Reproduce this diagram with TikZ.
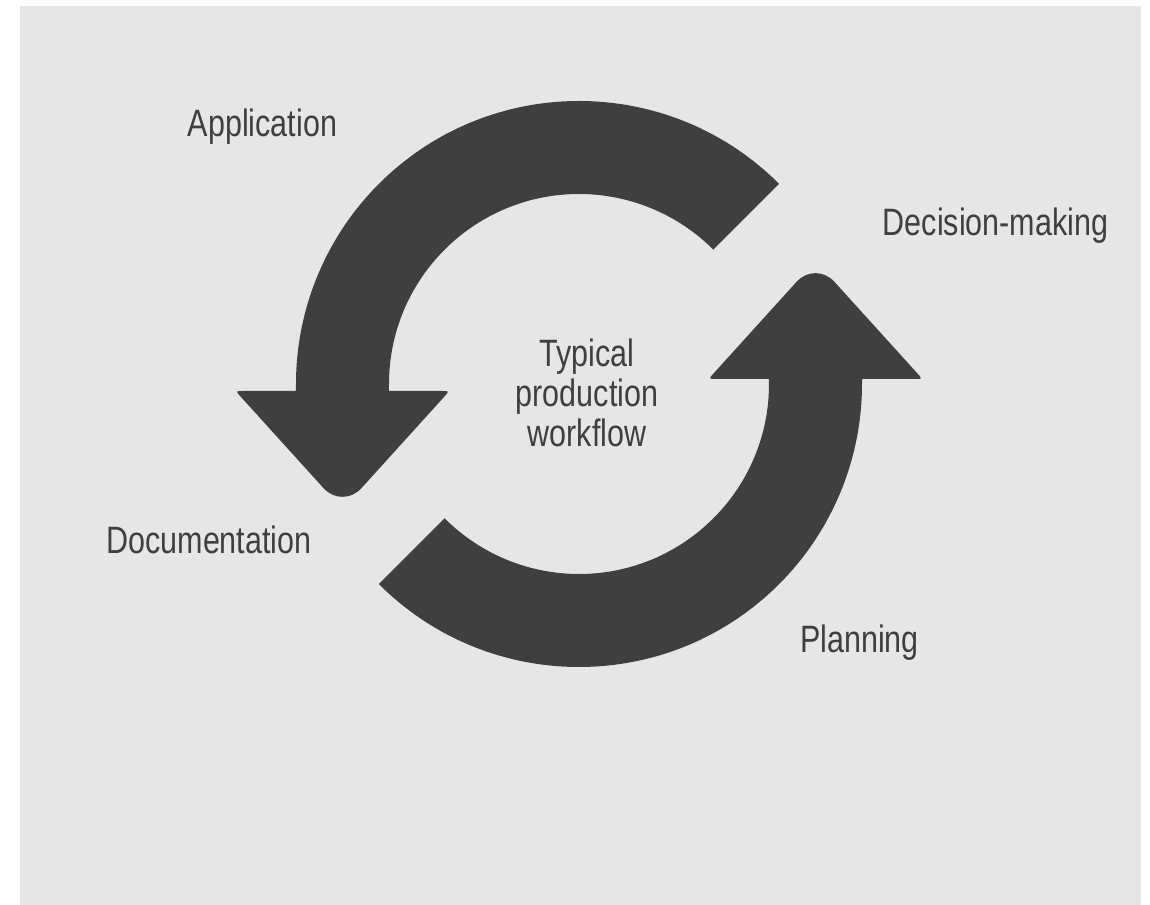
\documentclass[tikz,border=0pt]{standalone}
\usepackage{fontspec}
\newfontfamily\labelfont[FakeStretch=0.8]{Liberation Sans}
\usetikzlibrary{positioning}

\definecolor{bggray}{HTML}{E6E6E6}
\definecolor{arrowgray}{HTML}{3F3F3F}

\tikzset{
    stagelabel/.style={anchor=base,inner sep=0pt,text=arrowgray,
        font={\labelfont\fontsize{21.7pt}{22.7pt}\selectfont}},
    cyclearrow/.style={fill=arrowgray,draw=none}
}

\begin{document}
\begin{tikzpicture}[x=0.02cm,y=0.02cm]
    \useasboundingbox (-579,-521) rectangle (571,384);
    \fill[white] (-579,-521) rectangle (571,384);
    \fill[bggray] (-559,-521) rectangle (562,378);

    \fill[cyclearrow] (45:283) arc[start angle=45,end angle=180,radius=283]
        -- (-283,-7) -- (-335.5,-7) .. controls (-343.5,-7) .. (-338.1,-12.9)
        -- (-255.3,-104.3) .. controls (-244.9,-115.7) and (-228.1,-115.7) .. (-217.7,-104.3)
        -- (-134.9,-12.9) .. controls (-129.5,-7) .. (-137.5,-7)
        -- (-190,-7) -- (-190,0) arc[start angle=180,end angle=45,radius=190] -- cycle;

    \fill[cyclearrow] (225:283) arc[start angle=225,end angle=360,radius=283]
        -- (283,5) -- (335.5,5) .. controls (343.5,5) .. (338.1,10.9)
        -- (255.3,102.3) .. controls (244.9,113.7) and (228.1,113.7) .. (217.7,102.3)
        -- (134.9,10.9) .. controls (129.5,5) .. (137.5,5)
        -- (190,5) -- (190,0) arc[start angle=360,end angle=225,radius=190] -- cycle;

    \node[stagelabel] (application) at (-316.5,247) {Application};
    \node[stagelabel] (decision) at (416.5,148) {Decision-making};
    \node[stagelabel] (documentation) at (-370,-170) {Documentation};
    \node[stagelabel] (planning) at (280.5,-269) {Planning};

    \node[stagelabel,anchor=center,align=center] (workflow) at (8,-8.5) {Typical\\production\\workflow};
\end{tikzpicture}
\end{document}
